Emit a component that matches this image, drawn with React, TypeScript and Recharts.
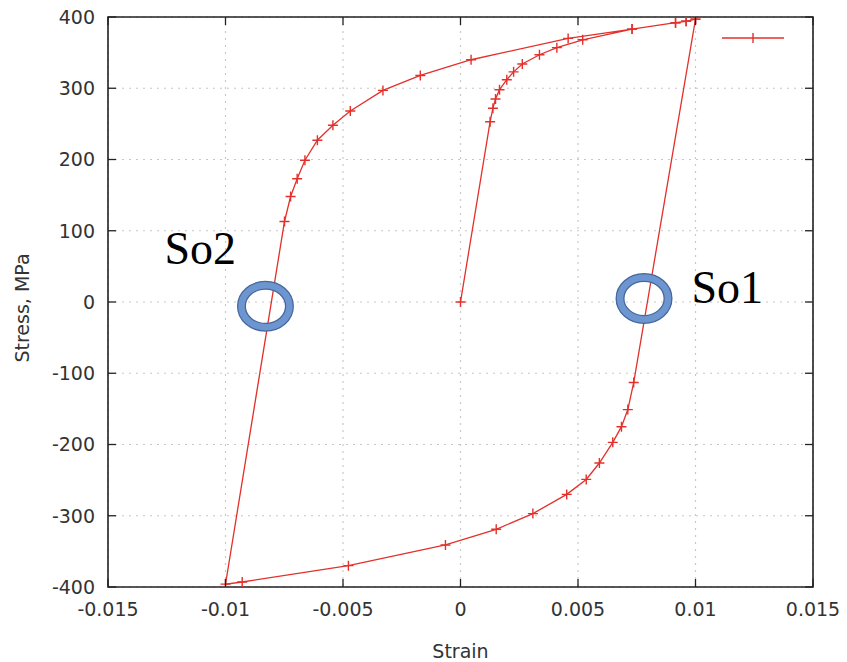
import { LineChart, Line, XAxis, YAxis, CartesianGrid, ReferenceArea, ReferenceDot } from "recharts";

// first loading from zero up to +0.01
const loadingStrain = [0, 0.00126, 0.00138, 0.00149, 0.00166, 0.00197, 0.00226, 0.00263, 0.00336, 0.0041, 0.0052, 0.0073, 0.00915, 0.0096, 0.01];
const loadingStress = [0, 253, 272, 285, 298, 312, 323, 334, 347, 357, 368, 383, 392, 394, 397];

// unloading down to -0.01
const unloadingStrain = [0.00737, 0.00712, 0.00685, 0.00648, 0.00591, 0.00535, 0.00452, 0.00308, 0.00152, -0.00064, -0.00477, -0.00929, -0.01];
const unloadingStress = [-113, -151, -175, -197, -226, -249, -270, -297, -319, -341, -370, -393, -396];

// reloading back up to +0.01
const reloadingStrain = [-0.00749, -0.00723, -0.00695, -0.00662, -0.00609, -0.00543, -0.00469, -0.0033, -0.00171, 0.00045, 0.00458, 0.0073, 0.00915, 0.0096, 0.01];
const reloadingStress = [113, 148, 173, 199, 227, 248, 268, 297, 318, 340, 370, 383, 392, 394, 397];

const xTicks = [-0.015, -0.01, -0.005, 0, 0.005, 0.01, 0.015];
const yTicks = [-400, -300, -200, -100, 0, 100, 200, 300, 400];

// marked points on the loop
const rings = [
  { name: "So2", strain: -0.0083, stress: -6 },
  { name: "So1", strain: 0.00781, stress: 5 },
];
const ringLabels = [
  { text: "So2", strain: -0.0126, stress: 53 },
  { text: "So1", strain: 0.00983, stress: -1.5 },
];

const RED = "#e3302a";
const TEXT = "#333";
// chart is pulled up over the body margin so the top tick label has room
const W = 839;
const H = 662;
const PLOT_TOP = 17;
const PLOT_BOTTOM = 587;
const PLOT_LEFT = 100;
const PLOT_RIGHT = 805;
const TICK = 8;

const toPoints = (xs: number[], ys: number[]) => xs.map((x, i) => ({ strain: x, stress: ys[i] }));

const data = [
  ...toPoints(loadingStrain, loadingStress),
  ...toPoints(unloadingStrain, unloadingStress),
  ...toPoints(reloadingStrain, reloadingStress),
];

const PlusDot = (props: any) => {
  const { cx, cy, index } = props;
  if (cx == null || cy == null) return null;
  return (
    <path
      key={index}
      d={`M${cx - 5},${cy}h10M${cx},${cy - 5}v10`}
      stroke={RED}
      strokeWidth={1.4}
      fill="none"
    />
  );
};

const XTick = (props: any) => {
  const { x, y, payload } = props;
  return (
    <g>
      <line x1={x} x2={x} y1={PLOT_BOTTOM} y2={PLOT_BOTTOM - TICK} stroke="#222" strokeWidth={1.3} />
      <line x1={x} x2={x} y1={PLOT_TOP} y2={PLOT_TOP + TICK} stroke="#222" strokeWidth={1.3} />
      <text x={x} y={y} dy="0.71em" textAnchor="middle" fill={TEXT} fontSize={19} fontFamily="DejaVu Sans">
        {String(payload.value)}
      </text>
    </g>
  );
};

const YTick = (props: any) => {
  const { x, y, payload } = props;
  return (
    <g>
      <line x1={PLOT_LEFT} x2={PLOT_LEFT + TICK} y1={y} y2={y} stroke="#222" strokeWidth={1.3} />
      <line x1={PLOT_RIGHT} x2={PLOT_RIGHT - TICK} y1={y} y2={y} stroke="#222" strokeWidth={1.3} />
      <text x={x} y={y} dy="0.36em" textAnchor="end" fill={TEXT} fontSize={19} fontFamily="DejaVu Sans">
        {String(payload.value)}
      </text>
    </g>
  );
};

const Ring = (props: any) => {
  const { cx, cy } = props;
  return (
    <g>
      <ellipse cx={cx} cy={cy} rx={24} ry={21} fill="none" stroke="#46679c" strokeWidth={9} />
      <ellipse cx={cx} cy={cy} rx={24} ry={21} fill="none" stroke="#6d95cf" strokeWidth={6.5} />
    </g>
  );
};

const makeLabel = (text: string) => (props: any) => (
  <text x={props.cx} y={props.cy} fill="#000" fontSize={46} fontFamily="Liberation Serif">
    {text}
  </text>
);

export default function App() {
  return (
    <div style={{ position: "relative", width: W, height: H, marginTop: -8 }}>
      <LineChart width={W} height={H} data={data} margin={{ top: PLOT_TOP, right: W - PLOT_RIGHT, left: 0, bottom: 0 }}>
        <CartesianGrid stroke="#c8c8c8" strokeDasharray="2 5" strokeWidth={1.2} />
        <XAxis
          type="number"
          dataKey="strain"
          domain={[-0.015, 0.015]}
          ticks={xTicks}
          height={H - PLOT_BOTTOM}
          tickSize={0}
          tickMargin={16}
          tick={<XTick />}
          axisLine={false}
          tickLine={false}
          allowDataOverflow
          label={{
            content: (p: any) => (
              <text
                x={p.viewBox.x + p.viewBox.width / 2}
                y={p.viewBox.y + 71}
                textAnchor="middle"
                fill={TEXT}
                fontSize={19}
                fontFamily="DejaVu Sans"
              >
                Strain
              </text>
            ),
          }}
        />
        <YAxis
          type="number"
          dataKey="stress"
          domain={[-400, 400]}
          ticks={yTicks}
          width={PLOT_LEFT}
          tickSize={0}
          tickMargin={13}
          tick={<YTick />}
          axisLine={false}
          tickLine={false}
          allowDataOverflow
          label={{
            content: (p: any) => {
              const cx = p.viewBox.x + 14;
              const cy = p.viewBox.y + p.viewBox.height / 2 + 6;
              return (
                <text
                  x={cx}
                  y={cy}
                  transform={`rotate(-90 ${cx} ${cy})`}
                  textAnchor="middle"
                  dominantBaseline="central"
                  fill={TEXT}
                  fontSize={19}
                  fontFamily="DejaVu Sans"
                >
                  Stress, MPa
                </text>
              );
            },
          }}
        />
        <ReferenceArea
          x1={-0.015}
          x2={0.015}
          y1={-400}
          y2={400}
          fill="none"
          stroke="#222"
          strokeWidth={1.6}
          ifOverflow="visible"
        />
        {rings.map((r) => (
          <ReferenceDot key={r.name} x={r.strain} y={r.stress} shape={<Ring />} ifOverflow="visible" />
        ))}
        <Line
          type="linear"
          dataKey="stress"
          stroke={RED}
          strokeWidth={1.3}
          dot={PlusDot}
          activeDot={false}
          isAnimationActive={false}
        />
        {ringLabels.map((l) => (
          <ReferenceDot key={l.text} x={l.strain} y={l.stress} shape={makeLabel(l.text)} ifOverflow="visible" />
        ))}
      </LineChart>
      <svg style={{ position: "absolute", left: 710, top: 28 }} width={72} height={20}>
        <line x1={4} x2={66} y1={10} y2={10} stroke={RED} strokeWidth={1.4} />
        <line x1={35} x2={35} y1={5} y2={15} stroke={RED} strokeWidth={1.4} />
      </svg>
    </div>
  );
}
